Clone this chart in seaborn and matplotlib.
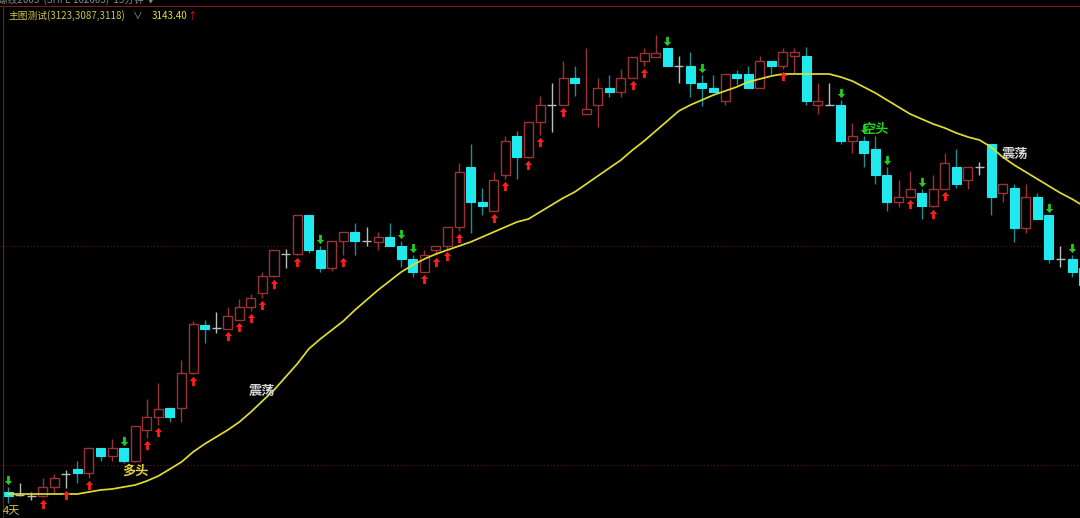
import matplotlib
matplotlib.use('Agg')
import matplotlib.pyplot as plt
from matplotlib.lines import Line2D
import numpy as np
import pandas as pd
import seaborn as sns

# candle data (15 min bars)
opens = [3008, 3005, 3004, 3004, 3013, 3026, 3031, 3027, 3052, 3044,
         3052, 3039, 3070, 3083, 3092, 3092, 3127, 3175, 3172, 3171,
         3180, 3193, 3207, 3224, 3246, 3246, 3285, 3250, 3232, 3259,
         3268, 3259, 3258, 3263, 3254, 3241, 3228, 3250, 3254, 3273,
         3333, 3298, 3289, 3325, 3364, 3343, 3378, 3395, 3395, 3422,
         3386, 3395, 3412, 3408, 3422, 3439, 3443, 3452, 3434, 3434,
         3417, 3412, 3399, 3426, 3426, 3412, 3439, 3434, 3444, 3444,
         3395, 3395, 3395, 3359, 3359, 3351, 3325, 3298, 3303, 3307,
         3294, 3311, 3333, 3320, 3333, 3356, 3307, 3312, 3272, 3303,
         3285, 3241, 3241, 3232]
closes = [3004, 3005, 3004, 3013, 3022, 3026, 3027, 3052, 3044, 3052,
          3039, 3074, 3083, 3091, 3083, 3127, 3176, 3171, 3172, 3184,
          3193, 3202, 3224, 3250, 3246, 3285, 3250, 3232, 3259, 3268,
          3259, 3259, 3263, 3254, 3241, 3228, 3245, 3254, 3273, 3328,
          3298, 3294, 3320, 3359, 3343, 3378, 3395, 3395, 3422, 3417,
          3391, 3412, 3408, 3422, 3443, 3447, 3447, 3434, 3434, 3417,
          3412, 3408, 3426, 3422, 3412, 3439, 3434, 3448, 3448, 3399,
          3399, 3395, 3359, 3364, 3347, 3325, 3298, 3303, 3311, 3294,
          3311, 3337, 3316, 3333, 3333, 3303, 3316, 3272, 3303, 3281,
          3241, 3241, 3228, 3215]
highs = [3013, 3017, 3008, 3022, 3026, 3030, 3039, 3052, 3052, 3061,
         3052, 3074, 3101, 3117, 3092, 3140, 3179, 3180, 3188, 3193,
         3201, 3206, 3228, 3250, 3251, 3285, 3285, 3254, 3259, 3268,
         3277, 3273, 3268, 3277, 3259, 3245, 3250, 3254, 3273, 3337,
         3356, 3312, 3328, 3364, 3369, 3378, 3404, 3417, 3439, 3434,
         3452, 3422, 3425, 3431, 3443, 3452, 3465, 3452, 3444, 3448,
         3425, 3425, 3426, 3430, 3434, 3444, 3439, 3452, 3452, 3453,
         3417, 3417, 3400, 3377, 3364, 3364, 3333, 3320, 3329, 3311,
         3325, 3347, 3351, 3333, 3338, 3356, 3316, 3316, 3316, 3307,
         3285, 3254, 3245, 3238]
lows = [2997, 3004, 3000, 3003, 3007, 3012, 3017, 3022, 3039, 3039,
        3037, 3038, 3062, 3075, 3078, 3078, 3126, 3157, 3167, 3171,
        3180, 3189, 3202, 3223, 3232, 3245, 3247, 3228, 3229, 3245,
        3245, 3254, 3250, 3254, 3233, 3223, 3228, 3245, 3251, 3269,
        3267, 3285, 3289, 3321, 3321, 3342, 3365, 3368, 3395, 3404,
        3386, 3373, 3403, 3403, 3422, 3434, 3443, 3434, 3417, 3403,
        3394, 3408, 3395, 3415, 3412, 3412, 3426, 3431, 3426, 3395,
        3386, 3395, 3356, 3347, 3333, 3316, 3289, 3293, 3303, 3281,
        3293, 3311, 3312, 3311, 3325, 3285, 3298, 3258, 3267, 3281,
        3237, 3233, 3223, 3210]
ma = [3006, 3006, 3006, 3006, 3006, 3006, 3006, 3008, 3010, 3011,
      3013, 3015, 3019, 3024, 3031, 3038, 3048, 3056, 3063, 3070,
      3078, 3088, 3099, 3110, 3123, 3136, 3151, 3161, 3170, 3179,
      3190, 3200, 3210, 3219, 3228, 3235, 3241, 3246, 3250, 3254,
      3258, 3263, 3268, 3273, 3278, 3281, 3288, 3295, 3302, 3308,
      3316, 3324, 3332, 3340, 3350, 3359, 3369, 3379, 3389, 3395,
      3400, 3405, 3409, 3413, 3418, 3421, 3424, 3426, 3426, 3426,
      3426, 3426, 3423, 3419, 3413, 3407, 3400, 3393, 3386, 3381,
      3376, 3372, 3367, 3363, 3360, 3353, 3343, 3335, 3328, 3321,
      3314, 3307, 3301, 3294]
# bar numbers (1-based) carrying buy / sell arrows
buy_bars = [4, 6, 8, 13, 14, 17, 20, 21, 22, 23, 24, 26, 30, 37, 38, 39, 40,
            43, 44, 46, 47, 49, 55, 56, 68, 79, 81, 82]
sell_bars = [1, 11, 28, 35, 36, 58, 61, 73, 75, 77, 80, 91, 93]
guide_levels = [3254, 3035]

df = pd.DataFrame({'open': opens, 'high': highs, 'low': lows, 'close': closes, 'ma': ma})
df['i'] = np.arange(len(df))

UP = '#9a3434'
DOWN = '#1fe8ee'
DOWN_WICK = '#1a8f93'
DOJI = '#bcbcbc'
W = 0.78

sns.set_theme(style='dark', rc={'axes.facecolor': 'black', 'figure.facecolor': 'black'})
plt.rcParams['font.family'] = ['Noto Sans CJK SC', 'DejaVu Sans']

fig = plt.figure(figsize=(10.8, 5.18), dpi=100)
ax = fig.add_axes([0, 0, 1, 1])
ax.set_facecolor('black')

for lv in guide_levels:
    ax.axhline(lv, color='#5c1616', lw=0.8, ls=(0, (1, 2)), zorder=1)

up = df[df.close > df.open]
dn = df[df.close < df.open]
dj = df[df.close == df.open]

ax.vlines(up.i, up.low, up.high, color=UP, lw=1.0, zorder=2)
ax.bar(up.i, up.close - up.open, bottom=up.open, width=W, facecolor='black',
       edgecolor=UP, linewidth=1.0, zorder=3)
ax.vlines(dn.i, dn.low, dn.high, color=DOWN_WICK, lw=1.0, zorder=2)
ax.bar(dn.i, dn.close - dn.open, bottom=dn.open, width=W, facecolor=DOWN,
       edgecolor=DOWN, linewidth=0.8, zorder=3)
ax.vlines(dj.i, dj.low, dj.high, color=DOJI, lw=1.0, zorder=2)
ax.hlines(dj.open, dj.i - W / 2, dj.i + W / 2, color=DOJI, lw=1.0, zorder=2)

# moving average
sns.lineplot(x=df.i, y=df.ma, color='#e0dc30', lw=1.25, ax=ax, zorder=4)

# signal arrows
up_arrow = [(0, 1), (-0.8, 0.1), (-0.3, 0.1), (-0.3, -1), (0.3, -1), (0.3, 0.1), (0.8, 0.1), (0, 1)]
down_arrow = [(x, -y) for x, y in up_arrow]
b = df.iloc[[n - 1 for n in buy_bars]]
s = df.iloc[[n - 1 for n in sell_bars]]
ax.scatter(b.i, b.low - 6.5, marker=up_arrow, s=44, color='#ff1e1e', linewidths=0, zorder=5)
ax.scatter(s.i, s.high + 7, marker=down_arrow, s=44, color='#22cc22', linewidths=0, zorder=5)

# state labels
ax.text(11.0, 3029, '多头', color='#e0d040', fontsize=9.5, fontweight='bold', ha='center', va='center', zorder=6)
ax.text(21.96, 3109, '震荡', color='#d4d4d4', fontsize=9.5, fontweight='bold', ha='center', va='center', zorder=6)
ax.text(74.97, 3371, '空头', color='#22cc22', fontsize=9.5, fontweight='bold', ha='center', va='center', zorder=6)
ax.text(87.07, 3346, '震荡', color='#d4d4d4', fontsize=9.5, fontweight='bold', ha='center', va='center', zorder=6)

ax.set_xlim(-0.692, 92.69)
ax.set_ylim(2982, 3500)
ax.set_xlabel('')
ax.set_ylabel('')
ax.set_xticks([])
ax.set_yticks([])
for sp in ax.spines.values():
    sp.set_visible(False)

# frame lines and header
fig.add_artist(Line2D([0, 1], [1 - 6 / 518, 1 - 6 / 518], color='#7a1c1c', lw=0.8))
fig.add_artist(Line2D([3 / 1080, 3 / 1080], [0, 1 - 6 / 518], color='#7a1c1c', lw=0.8))
fig.text(-0.002, 1.0, '螺纹2003  (SHFE 102003)  15分钟 ▼', color='#8a8a8a', fontsize=7, va='center')
fig.text(8 / 1080, 1 - 16 / 518, '主图测试(3123,3087,3118)', color='#cfc84a', fontsize=7, va='center')
fig.text(133 / 1080, 1 - 16 / 518, '∨', color='#9a9a9a', fontsize=7, va='center')
fig.text(152 / 1080, 1 - 16 / 518, '3143.40', color='#e6df28', fontsize=7, va='center')
fig.text(187 / 1080, 1 - 16 / 518, '↑', color='#e02020', fontsize=7, va='center')
fig.text(3 / 1080, 1 - 511 / 518, '4天', color='#d8c050', fontsize=8, va='center')

fig.savefig('out.png', dpi=100, facecolor='black')
